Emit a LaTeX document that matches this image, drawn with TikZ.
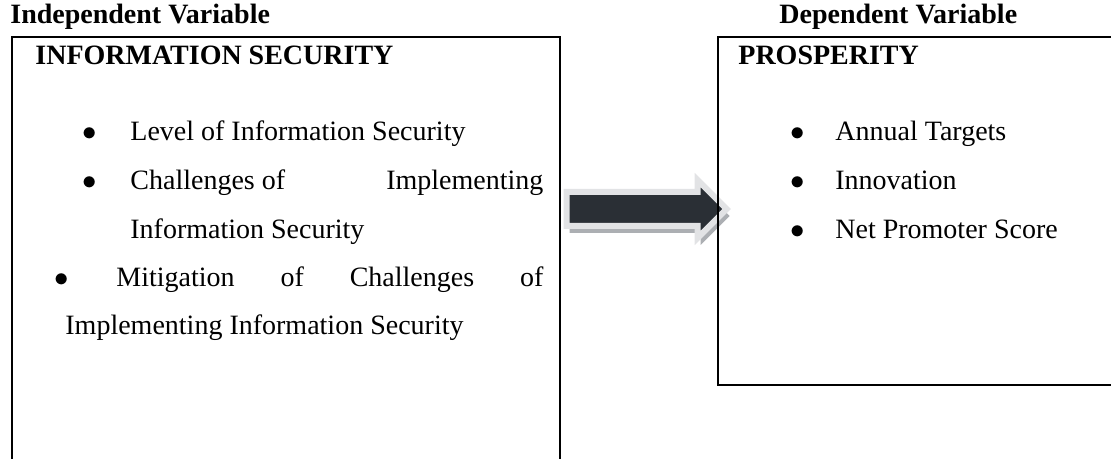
\documentclass[tikz,border=0pt]{standalone}
\usepackage{fontspec}
\setmainfont{Liberation Serif}
\usetikzlibrary{positioning}
\usetikzlibrary{shapes.arrows,shadows}
\definecolor{arrowdark}{RGB}{42,47,53}
\definecolor{arrowrim}{RGB}{226,227,229}
\definecolor{arrowshade}{RGB}{172,175,179}

\begin{document}
\begin{tikzpicture}[x=0.5pt,y=-0.5pt,
varbox/.style={rectangle, draw, line width=1pt, inner sep=0pt, outer sep=0pt, anchor=north west},
headnode/.style={font=\fontsize{14}{17}\selectfont\bfseries, inner sep=0pt, anchor=base west},
itemnode/.style={font=\fontsize{14}{17}\selectfont, inner sep=0pt, anchor=base west},
bigarrow/.style={single arrow, fill=arrowdark, draw=arrowrim, line width=3pt,
  inner sep=7pt, minimum height=80pt, minimum width=26pt, single arrow head extend=6pt,
  single arrow tip angle=90,
  drop shadow={shadow xshift=1.5pt, shadow yshift=-3.5pt, fill=arrowshade, opacity=1}},
]
\clip (0,0) rectangle (1111,459);

%Boxes
\node[varbox, minimum width=274pt, minimum height=220pt] (indep) at (12,37) {};

%Arrow
\node[bigarrow] (link) at (638,209) {};

\node[varbox, minimum width=210pt, minimum height=174pt] (dep) at (718,37) {};

%Headings
\node[headnode] (indeplabel) at (10,24) {Independent Variable};
\node[headnode] (deplabel)   at (779,24) {Dependent Variable};
\node[headnode] (infosec)    at (35,65) {INFORMATION SECURITY};
\node[headnode] (prosper)    at (738,65) {PROSPERITY};

%Independent items
\node[itemnode] (level) at (82,141) {\makebox[24pt][l]{$\bullet$}Level of Information Security};
\node[itemnode] (chal)  at (82,190) {\makebox[24pt][l]{$\bullet$}\makebox[206.5pt][s]{Challenges of \hfill Implementing}};
\node[itemnode] (chal2) at (130,239) {Information Security};
\node[itemnode] (miti)  at (54,286) {\makebox[31pt][l]{$\bullet$}\makebox[213.5pt][s]{Mitigation \hfill of \hfill Challenges \hfill of}};
\node[itemnode] (miti2) at (65,334) {Implementing Information Security};

%Dependent items
\node[itemnode] (annual) at (790,141) {\makebox[22.5pt][l]{$\bullet$}Annual Targets};
\node[itemnode] (innov)  at (790,190) {\makebox[22.5pt][l]{$\bullet$}Innovation};
\node[itemnode] (nps)    at (790,239) {\makebox[22.5pt][l]{$\bullet$}Net Promoter Score};
\end{tikzpicture}
\end{document}
